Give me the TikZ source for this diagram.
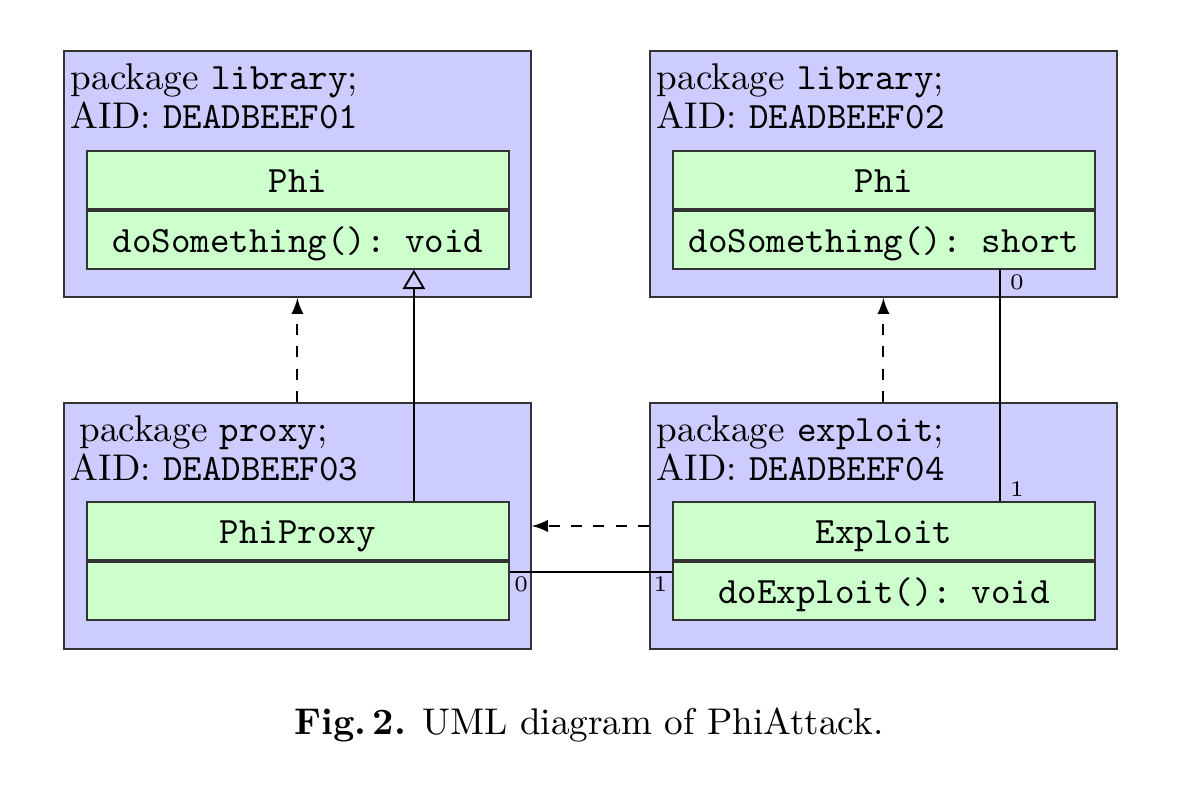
\documentclass[tikz,border=0pt]{standalone}
\usepackage{tikz}
\usetikzlibrary{arrows,arrows.meta}
\definecolor{pkgblue}{RGB}{204,204,255}
\definecolor{clsgreen}{RGB}{204,255,204}

\begin{document}
\begin{tikzpicture}[x=0.269pt, y=-0.269pt, line width=0.5pt,
	pkg/.style={draw=black!80, fill=pkgblue, anchor=north west, minimum width=125.6pt, minimum height=66.2pt, inner sep=0pt},
	pkgtext/.style={anchor=north west, align=left, inner sep=0pt, font=\fontsize{10}{10.3}\selectfont\frenchspacing},
	cls/.style={draw=black!80, fill=clsgreen, anchor=north west, minimum width=113.5pt, text height=11.3pt, text depth=4.3pt, inner sep=0pt, font=\ttfamily\frenchspacing},
	card/.style={font=\fontsize{6}{7}\selectfont, inner xsep=2.5pt, inner ysep=1pt},
	dep/.style={dashed, -latex},
	inherit/.style={-{Triangle[open, width=6pt, length=5.2pt]}}]

	\useasboundingbox (0,0) rectangle (1181,790);

	% packages
	\node[pkg] (libA) at (63,50) {};
	\node[pkg] (libB) at (649,50) {};
	\node[pkg] (proxy) at (63,402) {};
	\node[pkg] (exploit) at (649,402) {};

	% package headers
	\node[pkgtext] (libAtxt) at (70,63) {package \texttt{library};\\AID: \texttt{DEADBEEF01}};
	\node[pkgtext] (libBtxt) at (656,63) {package \texttt{library};\\AID: \texttt{DEADBEEF02}};
	\node[pkgtext] (proxytxt) at (70,415) {\hspace{2.3pt}package \texttt{proxy};\\AID: \texttt{DEADBEEF03}};
	\node[pkgtext] (exploittxt) at (656,415) {package \texttt{exploit};\\AID: \texttt{DEADBEEF04}};

	% classes
	\node[cls] (phiA) at (86,150) {Phi};
	\node[cls] (phiAop) at (phiA.south west) {doSomething(): void};
	\node[cls] (phiB) at (672,150) {Phi};
	\node[cls] (phiBop) at (phiB.south west) {doSomething(): short};
	\node[cls] (phiProxy) at (86,501) {PhiProxy};
	\node[cls] (phiProxyop) at (phiProxy.south west) {};
	\node[cls] (expl) at (672,501) {Exploit};
	\node[cls] (explop) at (expl.south west) {doExploit(): void};

	% package dependencies
	\draw[dep] (proxy.north) -- (libA.south);
	\draw[dep] (exploit.north) -- (libB.south);
	\draw[dep] (exploit.west) -- (proxy.east);

	% inheritance
	\draw[inherit] ([xshift=31.2pt]phiProxy.north) -- ([xshift=31.2pt]phiAop.south);

	% associations
	\draw ([xshift=31.2pt]phiBop.south) -- ([xshift=31.2pt]expl.north)
		node[card, pos=0, anchor=north west] (cardA) {0}
		node[card, pos=1, anchor=south west] (cardB) {1};
	\draw ([yshift=-3pt]phiProxyop.north east) -- ([yshift=-3pt]explop.north west)
		node[card, inner xsep=1pt, inner ysep=0.9pt, pos=0, anchor=north west] (cardC) {0}
		node[card, inner xsep=1pt, inner ysep=0.9pt, pos=1, anchor=north east] (cardD) {1};

	% caption
	\node[anchor=base] (caption) at (589,735) {\textbf{Fig.\,2.} UML diagram of PhiAttack.};

\end{tikzpicture}
\end{document}
